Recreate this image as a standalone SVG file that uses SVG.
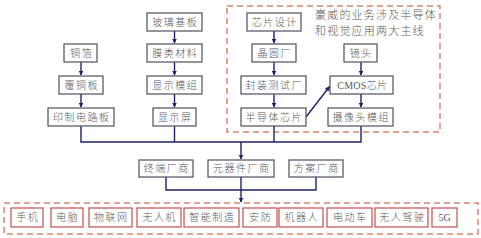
<svg xmlns="http://www.w3.org/2000/svg" width="481" height="238" viewBox="0 0 481 238">
<defs>
<marker id="ah" viewBox="0 0 10 10" refX="9" refY="5" markerWidth="5" markerHeight="5" orient="auto" markerUnits="userSpaceOnUse">
<path d="M0,0 L10,5 L0,10 z" fill="#1c2366"/>
</marker>
<style>
.n rect{fill:#ffffff;stroke:#4f4f5f;stroke-width:1.2}
.b rect{fill:#ffffff;stroke:#c0504d;stroke-width:1.2}
text{font-family:"Liberation Serif","Noto Sans CJK SC",serif;font-size:10px;font-weight:300;fill:#5a5a5a;text-anchor:middle;dominant-baseline:central;letter-spacing:1.5px;transform:translateX(0.75px)}
.lbl{text-anchor:start;font-size:11px;letter-spacing:1.2px;dominant-baseline:auto;transform:none}
.c path{fill:none;stroke:#1c2366;stroke-width:1.4}
.dash{fill:none;stroke:#d9876f;stroke-width:1.5;stroke-dasharray:6,4}
</style>
</defs>
<rect class="dash" x="227" y="6" width="213" height="126"/>
<rect class="dash" x="4" y="203" width="474" height="31"/>
<text class="lbl" x="315" y="19">豪威的业务涉及半导体</text>
<text class="lbl" x="315" y="35">和视觉应用两大主线</text>
<g class="c">
<path d="M81,62 V75" marker-end="url(#ah)"/>
<path d="M81,94 V107" marker-end="url(#ah)"/>
<path d="M174.5,31 V43" marker-end="url(#ah)"/>
<path d="M174.5,62 V75" marker-end="url(#ah)"/>
<path d="M174.5,94 V107" marker-end="url(#ah)"/>
<path d="M274,31 V43" marker-end="url(#ah)"/>
<path d="M274,62 V75" marker-end="url(#ah)"/>
<path d="M274,94 V107" marker-end="url(#ah)"/>
<path d="M361,62 V75" marker-end="url(#ah)"/>
<path d="M361,94 V107" marker-end="url(#ah)"/>
<path d="M306,117 L329.5,86.5" marker-end="url(#ah)"/>
<path d="M81,126 V142 H361 V126 M174.5,126 V142 M274,126 V142"/>
<path d="M241,142 V159" marker-end="url(#ah)"/>
<path d="M166,177 V190 H316 V177"/>
<path d="M241,177 V202" marker-end="url(#ah)"/>
</g>
<g id="n-tongbo" class="n"><rect x="64" y="44" width="33" height="18"/><text x="81" y="53">铜箔</text></g>
<g id="n-futongban" class="n"><rect x="59" y="76" width="44" height="18"/><text x="81" y="85">覆铜板</text></g>
<g id="n-pcb" class="n"><rect x="48" y="108" width="66" height="18"/><text x="81" y="117">印制电路板</text></g>
<g id="n-boli" class="n"><rect x="147" y="13" width="55" height="18"/><text x="174.5" y="22">玻璃基板</text></g>
<g id="n-mo" class="n"><rect x="147" y="44" width="55" height="18"/><text x="174.5" y="53">膜类材料</text></g>
<g id="n-xsmz" class="n"><rect x="147" y="76" width="55" height="18"/><text x="174.5" y="85">显示模组</text></g>
<g id="n-xsp" class="n"><rect x="153" y="108" width="43" height="18"/><text x="174.5" y="117">显示屏</text></g>
<g id="n-xpsj" class="n"><rect x="247" y="13" width="54" height="18"/><text x="274" y="22">芯片设计</text></g>
<g id="n-jyc" class="n"><rect x="252" y="44" width="44" height="18"/><text x="274" y="53">晶圆厂</text></g>
<g id="n-fzcs" class="n"><rect x="241" y="76" width="65" height="18"/><text x="273.5" y="85">封装测试厂</text></g>
<g id="n-bdt" class="n"><rect x="241" y="108" width="65" height="18"/><text x="273.5" y="117">半导体芯片</text></g>
<g id="n-jt" class="n"><rect x="344" y="44" width="33" height="18"/><text x="360.5" y="53">镜头</text></g>
<g id="n-cmos" class="n"><rect x="330" y="76" width="63" height="18"/><text x="361.5" y="85" style="letter-spacing:0.3px">CMOS芯片</text></g>
<g id="n-sxt" class="n"><rect x="328" y="108" width="65" height="18"/><text x="360.5" y="117">摄像头模组</text></g>
<g id="n-zd" class="n"><rect x="139" y="160" width="54" height="17"/><text x="166" y="168.5">终端厂商</text></g>
<g id="n-yqj" class="n"><rect x="208" y="160" width="66" height="17"/><text x="241" y="168.5">元器件厂商</text></g>
<g id="n-fa" class="n"><rect x="289" y="160" width="54" height="17"/><text x="316" y="168.5">方案厂商</text></g>
<g id="b-sj" class="b"><rect x="11" y="208" width="32" height="19"/><text x="27" y="217.5">手机</text></g>
<g id="b-dn" class="b"><rect x="51" y="208" width="32" height="19"/><text x="67" y="217.5">电脑</text></g>
<g id="b-wlw" class="b"><rect x="89" y="208" width="43" height="19"/><text x="110.5" y="217.5">物联网</text></g>
<g id="b-wrj" class="b"><rect x="137" y="208" width="44" height="19"/><text x="159" y="217.5">无人机</text></g>
<g id="b-znzz" class="b"><rect x="184" y="208" width="55" height="19"/><text x="211.5" y="217.5">智能制造</text></g>
<g id="b-af" class="b"><rect x="243" y="208" width="34" height="19"/><text x="260" y="217.5">安防</text></g>
<g id="b-jqr" class="b"><rect x="279" y="208" width="44" height="19"/><text x="301" y="217.5">机器人</text></g>
<g id="b-ddc" class="b"><rect x="327" y="208" width="45" height="19"/><text x="349.5" y="217.5">电动车</text></g>
<g id="b-wrjs" class="b"><rect x="375" y="208" width="53" height="19"/><text x="401.5" y="217.5">无人驾驶</text></g>
<g id="b-5g" class="b"><rect x="432" y="208" width="25" height="19"/><text x="444.5" y="217.5" style="letter-spacing:0;transform:none">5G</text></g>
</svg>
